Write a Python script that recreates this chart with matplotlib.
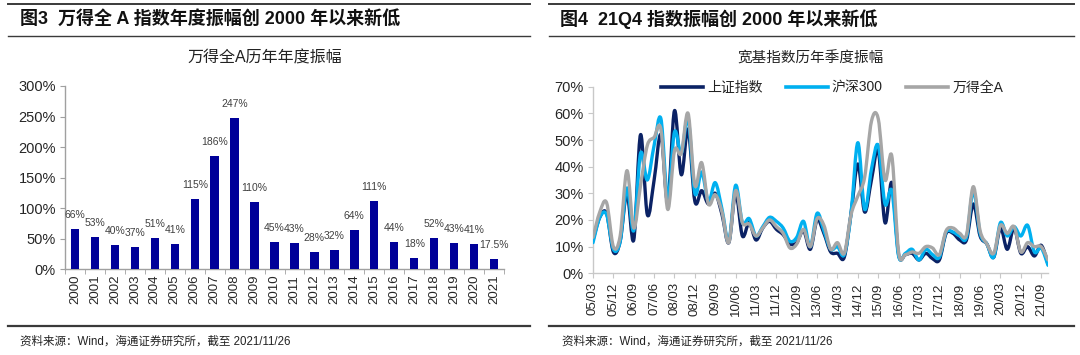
import matplotlib
matplotlib.use("Agg")
import matplotlib.pyplot as plt
from matplotlib.path import Path
from matplotlib.patches import PathPatch
from matplotlib.lines import Line2D
import numpy as np

plt.rcParams['font.family'] = ['Liberation Sans', 'Noto Sans CJK SC']

# ---------------- data ----------------
years = ['2000', '2001', '2002', '2003', '2004', '2005', '2006', '2007', '2008', '2009', '2010',
         '2011', '2012', '2013', '2014', '2015', '2016', '2017', '2018', '2019', '2020', '2021']
amplitude = [66, 53, 40, 37, 51, 41, 115, 186, 247, 110, 45, 43, 28, 32, 64, 111, 44, 18, 52, 43, 41, 17.5]
amp_labels = ['66%', '53%', '40%', '37%', '51%', '41%', '115%', '186%', '247%', '110%', '45%',
              '43%', '28%', '32%', '64%', '111%', '44%', '18%', '52%', '43%', '41%', '17.5%']

quarters = [f"{y:02d}/{m:02d}" for y in range(5, 22) for m in (3, 6, 9, 12)]
sh_index = [12.5, 21, 22.5, 8, 12, 30, 12.5, 52, 22, 35, 52, 27, 61, 37, 54, 27, 31, 26, 30, 22,
            11.5, 30, 14, 19, 12.5, 17, 19.5, 16.5, 14.5, 11, 11.5, 16, 9, 20, 15, 8, 7.5, 6,
            22.5, 41, 23, 35, 46, 19, 34, 7, 7, 7.5, 5, 7.5, 5.5, 5, 15, 15, 12.5, 12.5, 26, 14,
            11, 6, 17, 9, 17, 7.5, 10, 6.5, 10.5, 3.5]
hs300 = [11.5, 21, 22, 9, 12, 32, 16, 45, 35, 48, 58, 28, 53, 45, 58, 30, 38, 27, 34, 24,
         12, 33, 19, 20.5, 14, 17.5, 21, 19.5, 17, 12, 13.5, 19.5, 10, 22.5, 16, 9, 10, 7,
         22.5, 49, 24, 39, 48, 26, 31, 6.5, 7.5, 9, 5, 9, 7, 6, 15.5, 15.5, 14, 13.5, 31, 15,
         11, 6, 19, 14, 17.5, 14, 18, 8, 9.5, 3]
wind_a = [13.5, 23, 26.5, 10, 14, 38.5, 17, 33, 48, 51, 54, 24, 46, 45, 60, 33, 41.5, 26, 29.5, 23,
          11.5, 31, 19, 18.5, 14, 17, 20, 17.5, 15, 9.5, 11, 16.5, 10, 20.5, 18, 9, 11.5, 7.5,
          22, 29, 36, 57, 58, 35, 44, 8, 7, 8, 7.5, 10, 9.5, 7, 16, 17, 15, 14.5, 32.5, 16,
          11, 7.5, 18, 15, 17.5, 8, 11.5, 10, 10, 5]
series_names = ['上证指数', '沪深300', '万得全A']
series_colors = ['#0B2265', '#00B0F0', '#A6A6A6']

W, H = 1080, 355
fig = plt.figure(figsize=(W / 100, H / 100), dpi=100)
fig.patch.set_facecolor('white')


def fx(px):
    return px / W


def fy(py):
    return 1 - py / H


def hline(x0, x1, y, lw, color='#3a3a3a'):
    fig.add_artist(Line2D([fx(x0), fx(x1)], [fy(y), fy(y)], transform=fig.transFigure,
                          color=color, lw=lw))


# frame lines
for (a, b) in [(8, 530), (549, 1074)]:
    hline(a, b, 3.5, 1.4)
    hline(a, b, 36, 1.0)
    hline(a, b, 326, 1.6)

tick_color = '#262626'
fig.text(fx(20), fy(19), '图3  万得全 A 指数年度振幅创 2000 年以来新低', fontsize=13,
         fontweight='bold', va='center', ha='left', color='#111111')
fig.text(fx(560), fy(19), '图4  21Q4 指数振幅创 2000 年以来新低', fontsize=13,
         fontweight='bold', va='center', ha='left', color='#111111')
fig.text(fx(265), fy(58), '万得全A历年年度振幅', fontsize=11.5, va='center', ha='center',
         color='#222222')
fig.text(fx(811), fy(58), '宽基指数历年季度振幅', fontsize=10.5, va='center', ha='center',
         color='#222222')
for xx in (20, 562):
    fig.text(fx(xx), fy(342), '资料来源：Wind，海通证券研究所，截至 2021/11/26', fontsize=8.3,
             va='center', ha='left', color='#222222')

# ---------------- left: bar chart ----------------
ax1 = fig.add_axes([fx(65), fy(269.3), fx(504 - 65), (269.3 - 86) / H])
x = np.arange(len(years))
ax1.bar(x, amplitude, width=0.42, color='#000099', zorder=3)
for xi, v, lab in zip(x, amplitude, amp_labels):
    ax1.annotate(lab, (xi, v), xytext=(0, 14), textcoords='offset pixels', ha='center',
                 va='center', fontsize=7.5, color='#404040')
ax1.set_xlim(-0.5, len(years) - 0.5)
ax1.set_ylim(0, 300)
ax1.set_yticks(range(0, 301, 50))
ax1.set_yticklabels([f'{v}%' for v in range(0, 301, 50)], fontsize=10.5, color=tick_color)
ax1.set_xticks(x)
ax1.set_xticklabels(years, rotation=90, fontsize=9.5, color=tick_color)
ax1.tick_params(axis='x', length=0, pad=4)
ax1.set_xticks(np.arange(-0.5, len(years), 1), minor=True)
ax1.tick_params(axis='x', which='minor', length=3.5, color='#A0A0A0', direction='out')
ax1.tick_params(axis='y', length=3.5, color='#A0A0A0', pad=3)
for s in ('top', 'right'):
    ax1.spines[s].set_visible(False)
for s in ('left', 'bottom'):
    ax1.spines[s].set_color('#A0A0A0')
    ax1.spines[s].set_linewidth(1.0)


# ---------------- right: smoothed lines ----------------
def smooth_path(xs, ys):
    xs = np.asarray(xs, float)
    ys = np.asarray(ys, float)
    pts = np.column_stack([xs, ys])
    n = len(pts)
    verts = [pts[0]]
    codes = [Path.MOVETO]
    for i in range(n - 1):
        p0 = pts[i - 1] if i > 0 else pts[i]
        p1 = pts[i]
        p2 = pts[i + 1]
        p3 = pts[i + 2] if i + 2 < n else pts[i + 1]
        c1 = p1 + (p2 - p0) / 6.0
        c2 = p2 - (p3 - p1) / 6.0
        verts += [c1, c2, p2]
        codes += [Path.CURVE4] * 3
    return Path(verts, codes)


ax2 = fig.add_axes([fx(593), fy(273.3), fx(1048 - 593), (273.3 - 86.7) / H])
qx = np.arange(len(quarters))
for ys, col in zip([sh_index, hs300, wind_a], series_colors):
    ax2.add_patch(PathPatch(smooth_path(qx, ys), fill=False, edgecolor=col, lw=2.4,
                            capstyle='round', joinstyle='round', zorder=3))
ax2.set_xlim(0, len(quarters) - 1)
ax2.set_ylim(0, 70)
ax2.set_yticks(range(0, 71, 10))
ax2.set_yticklabels([f'{v}%' for v in range(0, 71, 10)], fontsize=10.5, color=tick_color)
ax2.set_xticks(qx[::3])
ax2.set_xticklabels(quarters[::3], rotation=90, fontsize=9.5, color=tick_color)
ax2.tick_params(axis='x', length=3.5, color='#C8C8C8', direction='out', pad=3)
ax2.tick_params(axis='y', length=3.5, color='#C8C8C8', pad=3)
for s in ('top', 'right'):
    ax2.spines[s].set_visible(False)
for s in ('left', 'bottom'):
    ax2.spines[s].set_color('#C8C8C8')
    ax2.spines[s].set_linewidth(1.0)

handles = [Line2D([0], [0], color=c, lw=2.6) for c in series_colors]
fig.legend(handles, series_names, loc='center', bbox_to_anchor=(fx(832), fy(88)), ncol=3,
           frameon=False, fontsize=10, handlelength=3.0, handletextpad=0.3,
           columnspacing=1.7, labelcolor='#222222')

fig.savefig('out.png', dpi=100, facecolor='white')
